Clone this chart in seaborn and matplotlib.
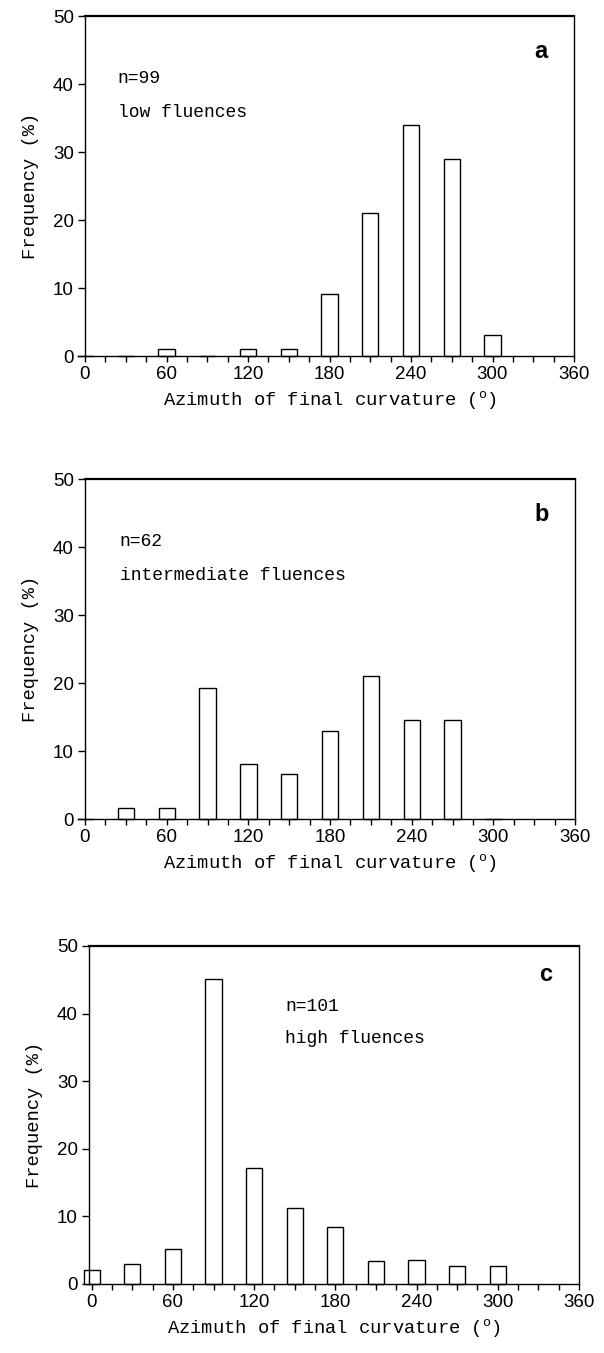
import numpy as np
import pandas as pd
import matplotlib
matplotlib.use("Agg")
import matplotlib.pyplot as plt
from matplotlib.ticker import MultipleLocator
import seaborn as sns

# ---- data ----
angles_a = [60, 120, 150, 180, 210, 240, 270, 300]
freq_a = [1.0, 1.0, 1.0, 9.1, 21.1, 33.9, 29.0, 3.1]

angles_b = [30, 60, 90, 120, 150, 180, 210, 240, 270]
freq_b = [1.6, 1.6, 19.2, 8.1, 6.6, 12.9, 21.0, 14.5, 14.5]

angles_c = [0, 30, 60, 90, 120, 150, 180, 210, 240, 270, 300]
freq_c = [2.0, 3.0, 5.2, 45.1, 17.1, 11.3, 8.4, 3.4, 3.5, 2.6, 2.7]

xticks = [0, 60, 120, 180, 240, 300, 360]
yticks = [0, 10, 20, 30, 40, 50]

panels = [
    dict(angles=angles_a, freq=freq_a, letter="a", n="n=99", desc="low fluences"),
    dict(angles=angles_b, freq=freq_b, letter="b", n="n=62", desc="intermediate fluences"),
    dict(angles=angles_c, freq=freq_c, letter="c", n="n=101", desc="high fluences"),
]

sns.set_style("ticks")
plt.rcParams["font.family"] = ["Liberation Sans", "DejaVu Sans"]
plt.rcParams["text.color"] = "black"
plt.rcParams["axes.labelcolor"] = "black"
plt.rcParams["xtick.color"] = "black"
plt.rcParams["ytick.color"] = "black"

W, H = 604, 1353
fig = plt.figure(figsize=(W / 100, H / 100), dpi=100)

# axes boxes in pixels: left, right, top, bottom
boxes = [(85, 574, 16, 356), (85, 575, 479, 819), (89, 579, 946, 1284)]
xlims = [(0, 360), (0, 360), (-2, 360)]
text_pos = [(0.067, 0.815, 0.716), (0.071, 0.816, 0.715), (0.40, 0.82, 0.726)]
letter_y = [0.897, 0.897, 0.915]

mono = ["Liberation Mono", "DejaVu Sans Mono"]

for p, box, xl, tp, ly in zip(panels, boxes, xlims, text_pos, letter_y):
    l, r, t, b = box
    ax = fig.add_axes([l / W, 1 - b / H, (r - l) / W, (b - t) / H])
    df = pd.DataFrame({"angle": p["angles"], "freq": p["freq"]})
    sns.histplot(data=df, x="angle", weights="freq", binwidth=30,
                 binrange=(-15, 315), shrink=0.40,
                 color="white", edgecolor="black", linewidth=1.0, alpha=1,
                 ax=ax)
    for patch in ax.patches:
        patch.set_clip_on(False)
    ax.set_xlim(*xl)
    ax.set_ylim(0, 50)
    ax.set_xticks(xticks)
    ax.set_yticks(yticks)
    ax.xaxis.set_minor_locator(MultipleLocator(15))
    ax.tick_params(axis="x", which="major", direction="out", length=4.5, width=1,
                   labelsize=13.5, pad=3, colors="black")
    ax.tick_params(axis="x", which="minor", direction="out", length=4.5, width=1)
    ax.tick_params(axis="y", which="major", direction="out", length=5, width=1,
                   labelsize=13.5, pad=3, colors="black")
    for side in ["top", "right", "left", "bottom"]:
        ax.spines[side].set_visible(True)
        ax.spines[side].set_color("black")
        ax.spines[side].set_linewidth(1.0)
    ax.spines["top"].set_linewidth(1.6)
    ax.set_ylabel("Frequency (%)", fontsize=13.5, family=mono, labelpad=10)
    ax.set_xlabel("Azimuth of final curvature ($^\\mathregular{o}$)", fontsize=13.5,
                  family=mono, labelpad=4)
    ax.text(0.932, ly, p["letter"], transform=ax.transAxes, fontsize=17,
            fontweight="bold", ha="center", va="center",
            family=["Liberation Sans", "DejaVu Sans"])
    ax.text(tp[0], tp[1], p["n"], transform=ax.transAxes, fontsize=13,
            family=mono, ha="left", va="center")
    ax.text(tp[0], tp[2], p["desc"], transform=ax.transAxes, fontsize=13,
            family=mono, ha="left", va="center")

fig.savefig("out.png", dpi=100)
